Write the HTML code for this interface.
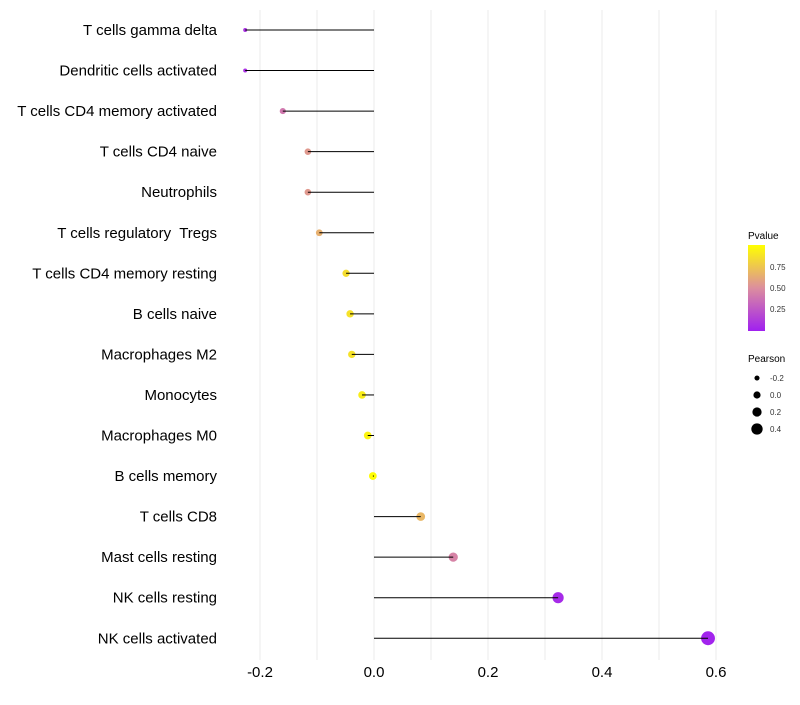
<!DOCTYPE html>
<html><head><meta charset="utf-8"><style>
body{margin:0;background:#fff;font-family:"Liberation Sans",sans-serif;}
text{white-space:pre;}
</style></head><body>
<svg width="800" height="700" id="chart" font-family="Liberation Sans, sans-serif">
<defs><linearGradient id="pg" x1="0" y1="1" x2="0" y2="0">
<stop offset="0" stop-color="#A020F0"/><stop offset="0.5" stop-color="#DC8E9E"/><stop offset="1" stop-color="#FFFF00"/>
</linearGradient></defs>
<g id="grid"></g><g id="marks"></g><g id="axes"></g>
<g>
<text x="748" y="239" font-size="10">Pvalue</text>
<rect x="748" y="245" width="17" height="86" fill="url(#pg)"/>
<g font-size="8" fill="#333">
<text x="770" y="270">0.75</text><text x="770" y="291">0.50</text><text x="770" y="312">0.25</text>
</g>
<text x="748" y="362" font-size="10">Pearson</text>
<g id="sizeLegend" font-size="8" fill="#333"></g>
</g>
</svg>
<script>
const categories=["T cells gamma delta","Dendritic cells activated","T cells CD4 memory activated","T cells CD4 naive","Neutrophils","T cells regulatory  Tregs","T cells CD4 memory resting","B cells naive","Macrophages M2","Monocytes","Macrophages M0","B cells memory","T cells CD8","Mast cells resting","NK cells resting","NK cells activated"];
const pearson=[-0.226,-0.226,-0.160,-0.116,-0.116,-0.096,-0.049,-0.042,-0.039,-0.021,-0.011,-0.002,0.082,0.139,0.323,0.586];
const pvalue=[0.08,0.08,0.40,0.55,0.55,0.65,0.85,0.87,0.87,0.92,0.95,0.99,0.68,0.45,0.05,0.02];
const xTicks=[-0.2,0.0,0.2,0.4,0.6];
const sizeLegendValues=[-0.2,0.0,0.2,0.4];
const NS="http://www.w3.org/2000/svg";
const x=v=>374+v*570;
const y=i=>30+i*40.55;
const r=v=>v<-0.2?2:3.9+5.2*v;
function lerp(a,b,t){return a.map((c,k)=>Math.round(c+(b[k]-c)*t));}
function color(p){const s0=[160,32,240],s1=[220,142,158],s2=[255,255,0];
const c=p<0.5?lerp(s0,s1,p/0.5):lerp(s1,s2,(p-0.5)/0.5);return `rgb(${c.join(',')})`;}
function mk(tag,attrs,parent){const e=document.createElementNS(NS,tag);for(const k in attrs)e.setAttribute(k,attrs[k]);parent.appendChild(e);return e;}
const grid=document.getElementById('grid'),marks=document.getElementById('marks'),axes=document.getElementById('axes');
for(let v=-0.2;v<=0.65;v+=0.1){const g=mk('line',{x1:x(v),x2:x(v),y1:10,y2:660,stroke:'#ebebeb','stroke-width':1},grid);

}
categories.forEach((c,i)=>{
const pt=mk('circle',{cx:x(pearson[i]),cy:y(i),r:r(pearson[i]),fill:color(pvalue[i])},marks);


const ln=mk('line',{x1:x(0),x2:x(pearson[i]),y1:y(i),y2:y(i),stroke:'#000','stroke-width':1},marks);


const t=mk('text',{x:217,y:y(i)+5,'text-anchor':'end','font-size':15,fill:'#000'},axes);
t.textContent=c;


});
xTicks.forEach(v=>{const t=mk('text',{x:x(v),y:677,'text-anchor':'middle','font-size':15,fill:'#000'},axes);
t.textContent=v.toFixed(1);

});
const sl=document.getElementById('sizeLegend');
sizeLegendValues.forEach((v,i)=>{const cy=378+i*17;
const c=mk('circle',{cx:757,cy:cy,r:r(v)-0.3,fill:'#000'},sl);


const t=mk('text',{x:770,y:cy+3},sl);t.textContent=v.toFixed(1);

});
</script>
</body></html>
